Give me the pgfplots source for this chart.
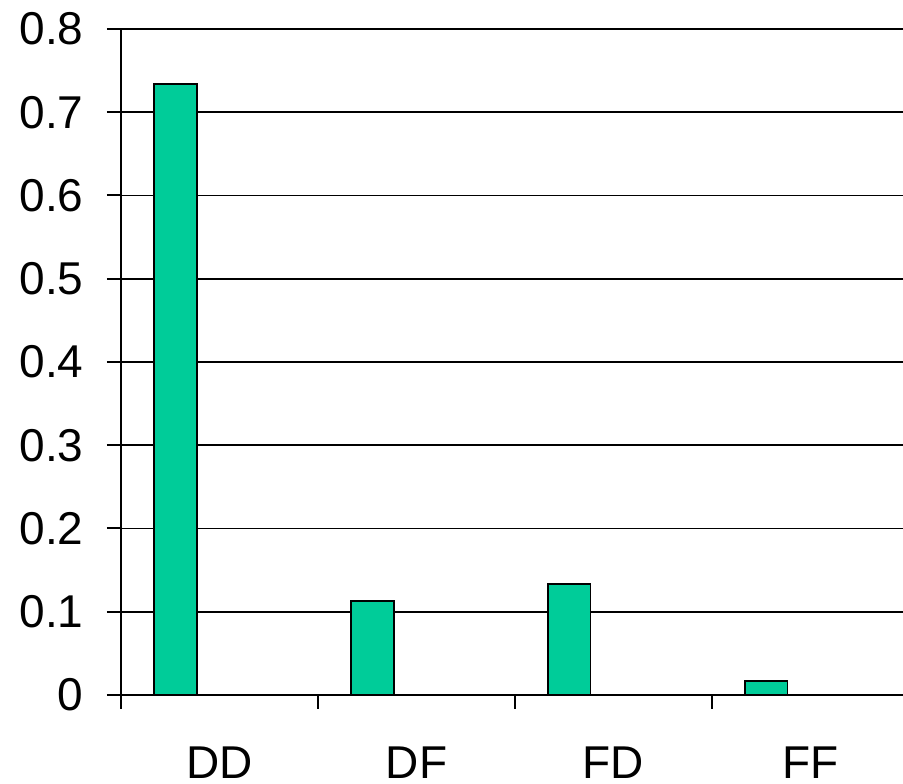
\documentclass[border=0pt]{standalone}
\usepackage{pgfplots}
\pgfplotsset{compat=1.18}
\usepackage{fontspec}
\setmainfont{Liberation Sans}
\definecolor{barfill}{HTML}{00CC99}
\begin{document}
\fontsize{46}{50}\selectfont
\begin{tikzpicture}[x=1pt,y=1pt]
\begin{axis}[
  at={(0,0)}, anchor=south west,
  scale only axis,
  width=782pt, height=666pt,
  xmin=-0.275, xmax=3.695,
  ymin=0, ymax=0.8,
  axis x line=bottom, axis y line=left,
  axis line style={-, line width=2pt},
  ytick={0,0.1,...,0.8},
  yticklabels={0,0.1,0.2,0.3,0.4,0.5,0.6,0.7,0.8},
  ymajorgrids,
  grid style={black, line width=1.6pt},
  xtick={-0.275,0.725,1.725,2.725},
  xticklabels={},
  extra x ticks={0.225,1.225,2.225,3.225},
  extra x tick labels={DD,DF,FD,FF},
  extra x tick style={major tick length=0pt, tick style={draw=none},
    xticklabel style={yshift=-36pt}},
  tick align=outside,
  major tick length=14pt,
  tick style={black, line width=2pt},
  ticklabel style={font=\fontsize{46}{50}\selectfont},
  yticklabel style={xshift=-8pt},
  /pgf/number format/assume math mode=true,
  clip=false,
]
\addplot[ybar, bar width=0.218, bar shift=0pt, fill=barfill, draw=black, line width=1.8pt]
  coordinates {(0,0.734) (1,0.113) (2,0.133) (3,0.017)};
\end{axis}
\pgfresetboundingbox
\path (-121pt,-89pt) rectangle (782pt,695pt);
\end{tikzpicture}
\end{document}
